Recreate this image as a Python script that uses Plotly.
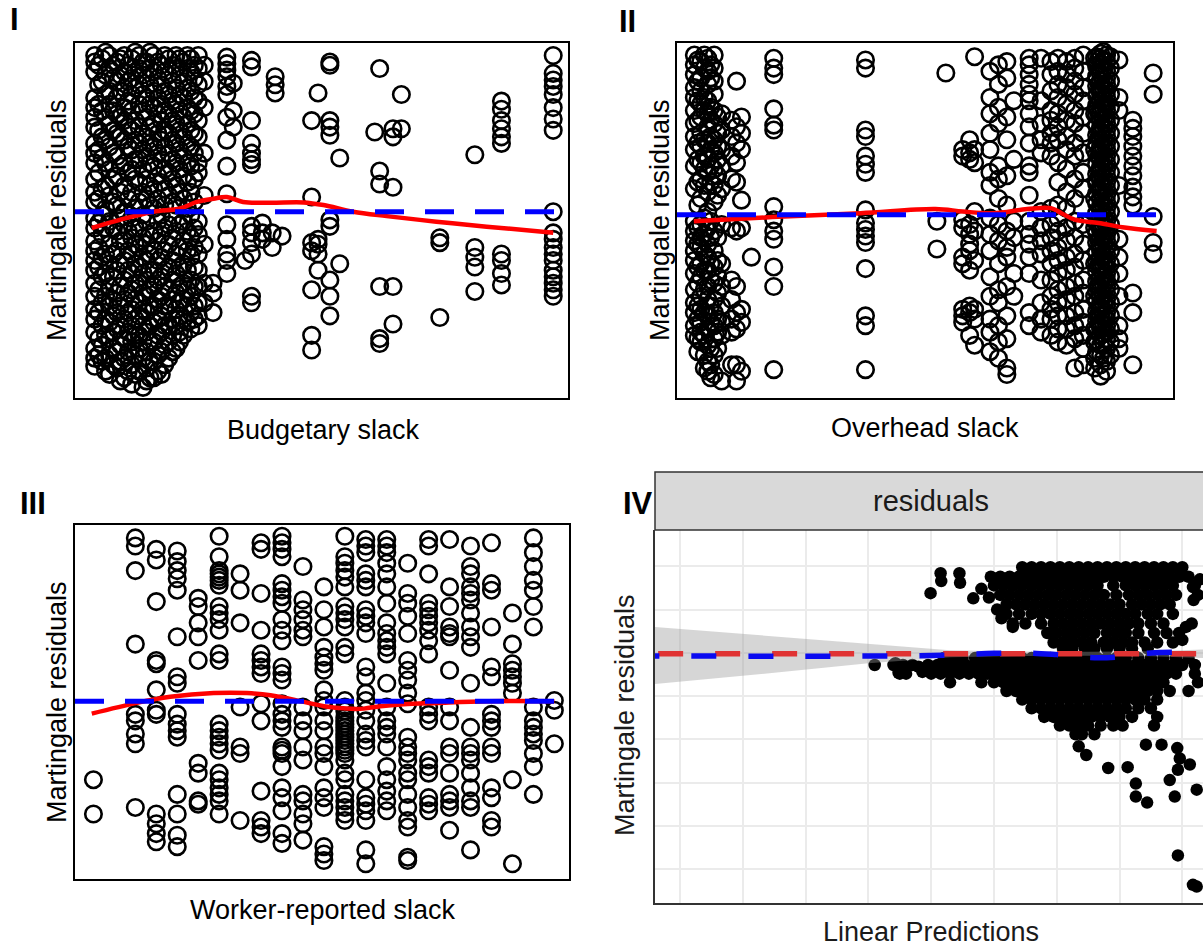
import plotly.graph_objects as go

FONT = "Liberation Sans, Arial, Helvetica, sans-serif"
W, H = 1203, 948

# ---------------- Panel I : Budgetary slack ----------------
p1_col_x = [0.40, 0.55, 0.70, 0.85, 1.00, 1.15, 1.30, 1.45, 1.60, 1.75, 1.90, 2.05, 2.20, 2.35,
            2.50, 2.62, 2.80, 3.08, 3.21, 3.45, 3.58, 3.80, 4.00, 4.06, 4.20, 4.80, 4.93, 5.17,
            5.37, 6.08, 6.18, 6.45, 6.62, 7.40, 8.11, 8.65, 9.70,
            0.48, 0.62, 0.78, 0.92, 1.08, 1.22, 1.38, 1.52, 1.68, 1.82, 1.98, 2.12, 2.28, 2.42]
p1_col_y = [
    [0.96, 0.92, 0.86, 0.70, 0.64, 0.58, 0.52, 0.42, 0.36, 0.30, 0.20, 0.12, 0.06, -0.04, -0.10, -0.18,
     -0.24, -0.30, -0.36, -0.44, -0.52, -0.60, -0.66, -0.74, -0.84, -0.90, -0.95],
    [0.94, 0.80, 0.62, 0.46, 0.33, 0.14, -0.02, -0.14, -0.28, -0.40, -0.56, -0.70, -0.82, -0.92],
    [0.96, 0.88, 0.74, 0.66, 0.54, 0.40, 0.26, 0.10, -0.06, -0.20, -0.32, -0.46, -0.58, -0.68, -0.78,
     -0.88, -1.00],
    [0.92, 0.80, 0.70, 0.60, 0.48, 0.34, 0.22, 0.04, -0.12, -0.24, -0.36, -0.50, -0.62, -0.72, -0.86, -0.96],
    [0.96, 0.86, 0.76, 0.64, 0.56, 0.44, 0.30, 0.16, 0.00, -0.08, -0.18, -0.30, -0.42, -0.54, -0.66,
     -0.78, -0.90, -1.02],
    [0.94, 0.82, 0.72, 0.62, 0.50, 0.38, 0.26, 0.12, -0.04, -0.16, -0.26, -0.38, -0.48, -0.60, -0.70,
     -0.80, -0.94, -1.06],
    [0.96, 0.88, 0.78, 0.66, 0.52, 0.42, 0.32, 0.18, 0.06, -0.10, -0.22, -0.34, -0.44, -0.56, -0.64,
     -0.76, -0.84, -0.98],
    [0.92, 0.82, 0.70, 0.58, 0.46, 0.34, 0.20, 0.08, -0.06, -0.20, -0.30, -0.42, -0.52, -0.62, -0.74,
     -0.86, -0.96, -1.04],
    [0.96, 0.86, 0.74, 0.64, 0.54, 0.40, 0.28, 0.14, 0.02, -0.12, -0.24, -0.36, -0.46, -0.58, -0.68,
     -0.80, -0.92, -1.02],
    [0.90, 0.78, 0.66, 0.56, 0.44, 0.32, 0.18, -0.02, -0.14, -0.28, -0.40, -0.52, -0.64, -0.74, -0.86, -1.00],
    [0.94, 0.84, 0.72, 0.60, 0.48, 0.36, 0.24, 0.10, -0.08, -0.20, -0.34, -0.48, -0.58, -0.70, -0.80, -0.90],
    [0.96, 0.88, 0.76, 0.66, 0.54, 0.42, 0.30, 0.16, 0.04, -0.12, -0.26, -0.38, -0.50, -0.60, -0.70, -0.84],
    [0.92, 0.80, 0.70, 0.58, 0.46, 0.34, 0.22, 0.08, -0.06, -0.18, -0.32, -0.44, -0.54, -0.66, -0.76],
    [0.94, 0.86, 0.74, 0.62, 0.50, 0.40, 0.28, 0.12, -0.02, -0.16, -0.28, -0.42, -0.52, -0.62, -0.72],
    [0.96, 0.88, 0.78, 0.68, 0.56, 0.46, 0.30, 0.24, -0.06, -0.14, -0.26, -0.36, -0.46, -0.56, -0.64, -0.70],
    [0.90, 0.80, 0.64, 0.36, 0.10, -0.20, -0.44, -0.56],
    [-0.44, -0.50, -0.62],
    [0.95, 0.91, 0.87, 0.83, 0.77, 0.72, 0.58, 0.44, 0.28, 0.11, -0.08, -0.17, -0.26, -0.30, -0.38],
    [0.79, 0.62, 0.52],
    [-0.30],
    [0.93, 0.89, 0.56, 0.42, 0.36, 0.32, 0.29, -0.09, -0.13, -0.19, -0.26, -0.52, -0.56],
    [-0.07, -0.13, -0.17],
    [-0.13, -0.22],
    [0.83, 0.78, 0.73],
    [-0.15],
    [0.56, 0.09, -0.19, -0.24, -0.48, -0.76, -0.85],
    [0.73, -0.17, -0.20, -0.26, -0.36],
    [0.92, 0.90, 0.56, 0.52, 0.47, -0.05, -0.09, -0.42, -0.52, -0.64],
    [0.33, -0.32],
    [0.49],
    [0.88, 0.25, 0.17, -0.46, -0.78, -0.81],
    [0.51, 0.46, 0.15, -0.46, -0.69],
    [0.72, 0.51],
    [-0.16, -0.19, -0.65],
    [0.35, -0.22, -0.28, -0.34, -0.49],
    [0.68, 0.63, 0.56, 0.51, 0.46, 0.42, -0.26, -0.30, -0.38, -0.45],
    [0.96, 0.85, 0.81, 0.77, 0.72, 0.64, 0.57, 0.50, 0.00, -0.13, -0.17, -0.22, -0.26, -0.30, -0.36,
     -0.40, -0.44, -0.48, -0.52],
    [0.90, 0.78, 0.66, 0.50, 0.38, 0.24, 0.08, -0.07, -0.22, -0.34, -0.48, -0.62, -0.78, -0.88],
    [0.98, 0.84, 0.72, 0.58, 0.44, 0.30, 0.16, 0.02, -0.10, -0.26, -0.38, -0.52, -0.66, -0.76, -0.90, -0.98],
    [0.90, 0.82, 0.62, 0.50, 0.36, 0.20, 0.06, -0.10, -0.26, -0.40, -0.54, -0.64, -0.74, -0.84, -0.94],
    [0.94, 0.84, 0.74, 0.58, 0.46, 0.28, 0.12, -0.04, -0.18, -0.32, -0.46, -0.58, -0.70, -0.82, -0.92, -1.04],
    [0.90, 0.80, 0.68, 0.52, 0.40, 0.24, 0.08, -0.12, -0.24, -0.36, -0.50, -0.62, -0.74, -0.86, -0.98],
    [0.98, 0.86, 0.76, 0.56, 0.44, 0.32, 0.20, 0.02, -0.10, -0.20, -0.32, -0.44, -0.54, -0.66, -0.76,
     -0.88, -1.00],
    [0.92, 0.84, 0.72, 0.62, 0.48, 0.38, 0.26, 0.12, -0.02, -0.16, -0.28, -0.38, -0.50, -0.60, -0.70,
     -0.80, -0.90, -1.08],
    [0.98, 0.88, 0.78, 0.66, 0.52, 0.42, 0.30, 0.16, 0.04, -0.14, -0.26, -0.36, -0.48, -0.58, -0.70,
     -0.80, -0.92, -1.02],
    [0.92, 0.82, 0.70, 0.60, 0.48, 0.36, 0.22, 0.08, -0.06, -0.18, -0.30, -0.42, -0.54, -0.66, -0.76,
     -0.88, -0.98],
    [0.96, 0.86, 0.74, 0.62, 0.50, 0.40, 0.26, 0.14, 0.04, -0.10, -0.24, -0.36, -0.46, -0.58, -0.70,
     -0.82, -0.94],
    [0.90, 0.80, 0.68, 0.56, 0.44, 0.32, 0.20, 0.06, -0.04, -0.16, -0.30, -0.42, -0.54, -0.66, -0.76, -0.86],
    [0.94, 0.84, 0.72, 0.62, 0.50, 0.38, 0.26, 0.12, -0.08, -0.22, -0.34, -0.46, -0.56, -0.64, -0.74, -0.80],
    [0.96, 0.88, 0.76, 0.64, 0.54, 0.42, 0.30, 0.18, 0.02, -0.12, -0.24, -0.36, -0.48, -0.58, -0.68],
    [0.90, 0.82, 0.70, 0.60, 0.48, 0.36, 0.20, 0.06, -0.10, -0.22, -0.34, -0.46, -0.58, -0.66],
]
p1_fit_x = [0.34, 0.91, 1.59, 2.13, 2.47, 2.81, 3.08, 3.41, 3.95, 4.63, 5.04, 5.64, 6.32, 7.33, 8.35, 9.70]
p1_fit_y = [-0.10, -0.05, 0.0, 0.02, 0.06, 0.08, 0.09, 0.06, 0.055, 0.057, 0.041, 0.0, -0.027, -0.061,
            -0.092, -0.129]
p1_ref_x = [0.0, 9.75]
p1_ref_y = [0.0, 0.0]

# ---------------- Panel II : Overhead slack ----------------
p2_col_x = [0.35, 0.48, 0.62, 0.75, 0.90, 1.10, 1.20, 1.30, 1.50, 1.95, 3.80, 5.24, 5.42, 5.76, 5.90,
            6.00, 6.31, 6.48, 6.65, 6.79, 7.10, 7.34, 7.54, 7.68, 7.85, 8.02, 8.19, 8.42, 8.54, 8.66,
            8.91, 9.19, 9.60,
            0.42, 0.55, 0.68, 0.82, 8.46, 8.60, 8.74]
p2_col_y = [
    [0.98, 0.92, 0.86, 0.78, 0.72, 0.64, 0.56, 0.48, 0.40, 0.30, 0.16, -0.04, -0.10, -0.16, -0.22, -0.28,
     -0.36, -0.46, -0.54, -0.60, -0.68, -0.74],
    [0.94, 0.84, 0.76, 0.68, 0.60, 0.50, 0.42, 0.32, 0.22, 0.10, -0.06, -0.14, -0.20, -0.30, -0.38, -0.50,
     -0.58, -0.66, -0.72, -0.78],
    [0.96, 0.88, 0.80, 0.70, 0.62, 0.54, 0.44, 0.34, 0.26, 0.14, 0.02, -0.08, -0.18, -0.26, -0.34, -0.44,
     -0.52, -0.62, -0.70, -0.80, -0.90, -0.96],
    [0.98, 0.90, 0.82, 0.74, 0.64, 0.56, 0.46, 0.38, 0.28, 0.18, 0.08, -0.10, -0.22, -0.32, -0.42, -0.52,
     -0.60, -0.68, -0.76, -0.86, -0.98],
    [0.62, 0.52, 0.40, 0.30, 0.16, -0.06, -0.30, -0.44, -0.56, -0.66, -0.74, -1.02],
    [0.58, 0.48, 0.36, 0.22, -0.08, -0.40, -0.52, -0.64, -0.72, -0.92],
    [0.82, 0.54, 0.44, 0.32, 0.20, -0.10, -0.44, -0.60, -0.70, -0.92, -1.02],
    [0.60, 0.50, 0.40, 0.09, -0.08, -0.58, -0.66, -0.96],
    [-0.26],
    [0.96, 0.90, 0.86, 0.65, 0.55, 0.52, 0.05, -0.03, -0.10, -0.15, -0.32, -0.44, -0.95],
    [0.95, 0.90, 0.52, 0.48, 0.36, 0.31, 0.26, 0.03, -0.05, -0.09, -0.13, -0.17, -0.33, -0.62, -0.68, -0.95],
    [-0.04, -0.21],
    [0.87],
    [0.40, 0.36, -0.03, -0.08, -0.26, -0.30, -0.58, -0.62, -0.66],
    [0.46, 0.38, 0.34, -0.06, -0.12, -0.18, -0.22, -0.34, -0.56, -0.60, -0.74],
    [0.97, 0.40, 0.32, 0.02, -0.10, -0.28, -0.58, -0.64, -0.80],
    [0.88, 0.72, 0.62, 0.50, 0.40, 0.26, 0.18, -0.02, -0.12, -0.22, -0.38, -0.50, -0.64, -0.72, -0.84],
    [0.92, 0.80, 0.66, 0.56, 0.30, 0.22, 0.10, -0.06, -0.16, -0.30, -0.46, -0.54, -0.68, -0.78, -0.88],
    [0.94, 0.84, 0.60, 0.46, 0.24, 0.06, -0.10, -0.20, -0.26, -0.44, -0.62, -0.76, -0.94, -0.98],
    [0.70, 0.34, -0.04, -0.14, -0.36, -0.50],
    [0.96, 0.92, 0.86, 0.80, 0.74, 0.70, 0.62, 0.54, 0.44, 0.30, 0.26, 0.12, -0.04, -0.12, -0.18, -0.26,
     -0.36, -0.60, -0.68],
    [0.96, 0.70, 0.56, 0.46, 0.38, 0.02, -0.08, -0.16, -0.24, -0.40, -0.54, -0.64, -0.72],
    [0.94, 0.86, 0.76, 0.64, 0.58, 0.50, 0.44, 0.36, 0.04, -0.06, -0.14, -0.22, -0.30, -0.40, -0.50, -0.58,
     -0.64, -0.74],
    [0.96, 0.88, 0.80, 0.72, 0.62, 0.54, 0.46, 0.32, 0.20, 0.06, -0.02, -0.10, -0.20, -0.28, -0.36, -0.46,
     -0.54, -0.62, -0.70, -0.78],
    [0.94, 0.86, 0.78, 0.68, 0.58, 0.48, 0.40, 0.28, 0.14, 0.04, -0.08, -0.16, -0.26, -0.34, -0.44, -0.52,
     -0.62, -0.70, -0.80],
    [0.96, 0.90, 0.82, 0.74, 0.64, 0.56, 0.44, 0.36, 0.22, 0.10, -0.04, -0.14, -0.24, -0.32, -0.42, -0.50,
     -0.60, -0.68, -0.76, -0.94],
    [0.98, 0.88, 0.78, 0.70, 0.60, 0.50, 0.38, 0.26, 0.16, -0.06, -0.18, -0.28, -0.40, -0.48, -0.58, -0.66,
     -0.74, -0.82, -0.92],
    [0.96, 0.62, 0.40, 0.10, -0.08, -0.30, -0.50, -0.70, -0.78, -0.88, -0.94],
    [0.99, 0.96, 0.93, 0.90, 0.86, 0.82, 0.78, 0.74, 0.70, 0.66, 0.62, 0.58, 0.54, 0.50, 0.46, 0.42, 0.38,
     0.34, 0.30, 0.26, 0.22, 0.18, 0.14, 0.10, 0.06, 0.02, -0.02, -0.06, -0.10, -0.14, -0.18, -0.22, -0.26,
     -0.30, -0.34, -0.38, -0.42, -0.46, -0.50, -0.54, -0.58, -0.62, -0.66, -0.70, -0.74, -0.80, -0.86,
     -0.92, -0.99],
    [0.98, 0.94, 0.88, 0.84, 0.80, 0.76, 0.72, 0.68, 0.64, 0.60, 0.56, 0.52, 0.48, 0.44, 0.40, 0.36, 0.32,
     0.28, 0.24, 0.20, 0.16, 0.12, 0.08, 0.04, 0.00, -0.04, -0.08, -0.12, -0.16, -0.20, -0.24, -0.28, -0.32,
     -0.36, -0.40, -0.44, -0.48, -0.52, -0.56, -0.60, -0.64, -0.68, -0.72, -0.76, -0.82, -0.90, -0.96],
    [0.95, 0.72, 0.64, 0.18, -0.15, -0.26, -0.36, -0.50, -0.68, -0.76, -0.82],
    [0.58, 0.53, 0.48, 0.42, 0.36, 0.30, 0.24, 0.17, 0.11, 0.06, -0.48, -0.60, -0.92],
    [0.87, 0.74, -0.01, -0.17, -0.24],
    [0.95, 0.82, 0.70, 0.58, 0.44, 0.34, 0.20, 0.06, -0.08, -0.18, -0.32, -0.42, -0.56, -0.64, -0.76, -0.84],
    [0.98, 0.90, 0.72, 0.64, 0.46, 0.36, 0.28, 0.18, -0.02, -0.12, -0.24, -0.34, -0.46, -0.60, -0.74,
     -0.86, -0.94],
    [0.92, 0.84, 0.66, 0.58, 0.48, 0.40, 0.30, 0.20, -0.04, -0.14, -0.30, -0.40, -0.56, -0.66, -0.82,
     -0.92, -1.00],
    [0.60, 0.50, 0.42, 0.34, 0.24, 0.12, -0.14, -0.28, -0.38, -0.48, -0.64, -0.72, -0.82],
    [0.97, 0.91, 0.85, 0.79, 0.73, 0.67, 0.61, 0.55, 0.49, 0.43, 0.37, 0.31, 0.25, 0.19, 0.13, 0.07, 0.01,
     -0.05, -0.11, -0.17, -0.23, -0.29, -0.35, -0.41, -0.47, -0.53, -0.59, -0.65, -0.71, -0.77, -0.84],
    [1.00, 0.95, 0.89, 0.83, 0.77, 0.71, 0.65, 0.59, 0.53, 0.47, 0.41, 0.35, 0.29, 0.23, 0.17, 0.11, 0.05,
     -0.01, -0.07, -0.13, -0.19, -0.25, -0.31, -0.37, -0.43, -0.49, -0.55, -0.61, -0.67, -0.73, -0.79, -0.88],
    [0.97, 0.90, 0.82, 0.74, 0.66, 0.58, 0.50, 0.42, 0.34, 0.26, 0.18, 0.10, 0.02, -0.06, -0.14, -0.22,
     -0.30, -0.38, -0.46, -0.54, -0.62, -0.70, -0.78, -0.86],
]
p2_fit_x = [0.34, 1.92, 3.70, 5.21, 5.76, 6.38, 7.06, 7.54, 7.75, 8.02, 8.50, 8.98, 9.67]
p2_fit_y = [-0.04, -0.014, 0.01, 0.035, 0.02, 0.01, 0.035, 0.041, 0.01, -0.03, -0.05, -0.076, -0.10]
p2_ref_x = [0.0, 9.67]
p2_ref_y = [0.0, 0.0]

# ---------------- Panel III : Worker-reported slack ----------------
p3_col_x = [0, 2, 3, 4, 5, 6, 7, 8, 9, 10, 11, 12, 13, 14, 15, 16, 17, 18, 19, 20, 21, 22]
p3_col_y = [
    [-0.48, -0.69],
    [1.0, 0.95, 0.80, 0.35, -0.08, -0.12, -0.20, -0.26, -0.65],
    [0.93, 0.865, 0.61, 0.25, 0.23, 0.07, -0.055, -0.08, -0.69, -0.75, -0.81, -0.86],
    [0.92, 0.855, 0.80, 0.75, 0.68, 0.395, 0.15, 0.11, -0.08, -0.14, -0.18, -0.22, -0.57, -0.69, -0.82, -0.89],
    [0.63, 0.58, 0.48, 0.395, 0.25, -0.38, -0.44, -0.61, -0.63],
    [1.01, 0.885, 0.80, 0.78, 0.76, 0.74, 0.71, 0.58, 0.54, 0.50, 0.435, 0.29, 0.25, -0.14, -0.18, -0.22,
     -0.26, -0.30, -0.44, -0.48, -0.53, -0.57, -0.61, -0.69],
    [0.78, 0.68, 0.48, -0.035, -0.28, -0.32, -0.73],
    [0.97, 0.93, 0.66, 0.435, 0.29, 0.25, 0.21, 0.17, -0.015, -0.12, -0.55, -0.73, -0.77, -0.81],
    [1.01, 0.97, 0.93, 0.885, 0.72, 0.68, 0.64, 0.60, 0.50, 0.435, 0.37, 0.21, 0.17, 0.13, -0.015, -0.08,
     -0.12, -0.16, -0.28, -0.30, -0.32, -0.40, -0.53, -0.59, -0.67, -0.81, -0.87],
    [0.825, 0.62, 0.56, 0.50, 0.435, 0.395, -0.035, -0.12, -0.18, -0.28, -0.36, -0.57, -0.61, -0.69, -0.75, -0.85],
    [0.70, 0.56, 0.455, 0.33, 0.27, 0.23, 0.19, 0.07, 0.005, -0.035, -0.12, -0.18, -0.28, -0.32, -0.40,
     -0.53, -0.59, -0.65, -0.89, -0.935, -0.975],
    [1.01, 0.885, 0.845, 0.80, 0.76, 0.70, 0.58, 0.54, 0.50, 0.455, 0.33, 0.29, 0.005, -0.035, -0.06, -0.10,
     -0.12, -0.14, -0.16, -0.18, -0.20, -0.22, -0.24, -0.26, -0.28, -0.30, -0.32, -0.36, -0.44, -0.48,
     -0.57, -0.61, -0.65, -0.69, -0.73],
    [0.99, 0.95, 0.91, 0.78, 0.74, 0.70, 0.56, 0.52, 0.48, 0.415, 0.21, 0.15, 0.05, 0.005, -0.055, -0.12,
     -0.20, -0.24, -0.28, -0.48, -0.59, -0.63, -0.67, -0.73, -0.91, -0.995],
    [0.99, 0.95, 0.91, 0.845, 0.78, 0.70, 0.60, 0.48, 0.415, 0.37, 0.33, 0.29, 0.11, -0.035, -0.12, -0.16,
     -0.20, -0.28, -0.40, -0.48, -0.55, -0.61, -0.67],
    [0.845, 0.66, 0.60, 0.52, 0.415, 0.25, 0.19, 0.13, 0.05, -0.015, -0.22, -0.28, -0.32, -0.36, -0.44,
     -0.48, -0.57, -0.65, -0.73, -0.77, -0.955, -0.975],
    [0.99, 0.95, 0.78, 0.60, 0.56, 0.52, 0.48, 0.435, 0.37, 0.29, -0.035, -0.08, -0.12, -0.36, -0.40,
     -0.44, -0.59, -0.63, -0.67],
    [0.99, 0.70, 0.58, 0.455, 0.415, 0.395, 0.19, -0.035, -0.12, -0.28, -0.32, -0.44, -0.57, -0.61, -0.65, -0.79],
    [0.95, 0.825, 0.78, 0.70, 0.66, 0.62, 0.54, 0.455, 0.395, 0.33, 0.11, -0.16, -0.28, -0.32, -0.36,
     -0.44, -0.53, -0.61, -0.65, -0.91],
    [0.97, 0.72, 0.68, 0.455, 0.21, 0.15, -0.08, -0.12, -0.16, -0.28, -0.32, -0.53, -0.59, -0.73, -0.77],
    [0.54, 0.35, 0.23, 0.19, 0.15, 0.11, 0.05, -0.48, -0.995],
    [1.0, 0.91, 0.825, 0.74, 0.68, 0.58, 0.455, -0.035, -0.12, -0.16, -0.20, -0.24, -0.32, -0.40, -0.57],
    [0.005, -0.055, -0.26],
]
p3_fit_x = [-0.08, 2.07, 3.67, 5.74, 7.33, 8.45, 10.04, 11.0, 12.1, 12.9, 13.7, 14.8, 16.4, 18.8, 22.0]
p3_fit_y = [-0.076, -0.01, 0.027, 0.05, 0.05, 0.037, -0.004, -0.03, -0.045, -0.045, -0.03, -0.018, -0.01,
            0.0, 0.0]
p3_ref_x = [-0.88, 22.15]
p3_ref_y = [0.0, 0.0]

# ---------------- Panel IV : residuals vs linear predictions ----------------
iv_row_y = [0.99, 0.88, 0.78, 0.67, 0.56, 0.45, 0.34, 0.23, 0.12, 0.05,
            -0.06, -0.14, -0.24, -0.34, -0.44, -0.54, -0.64, -0.74, -0.84, -0.94]
iv_row_x = [
    [5.45, 5.6, 5.75, 5.9, 6.05, 6.2, 6.35, 6.5, 6.65, 6.8, 6.95, 7.1, 7.25, 7.4, 7.55, 7.7, 7.85, 8.0],
    [4.95, 5.1, 5.25, 5.4, 5.55, 5.7, 5.85, 6.0, 6.15, 6.3, 6.45, 6.6, 6.75, 6.9, 7.05, 7.2, 7.35, 7.5,
     7.65, 7.8, 7.95, 8.1],
    [5.0, 5.15, 5.3, 5.45, 5.6, 5.75, 5.9, 6.05, 6.2, 6.35, 6.5, 6.65, 6.9, 7.1, 7.25, 7.4, 7.55, 7.7,
     7.85, 8.2],
    [5.1, 5.25, 5.4, 5.55, 5.7, 5.85, 6.0, 6.15, 6.3, 6.45, 6.6, 6.75, 6.95, 7.15, 7.3, 7.45, 7.6, 7.75,
     7.9, 8.25],
    [5.2, 5.35, 5.5, 5.65, 5.8, 5.95, 6.1, 6.25, 6.4, 6.55, 6.7, 6.85, 7.0, 7.2, 7.35, 7.5, 7.65, 7.8],
    [5.2, 5.4, 5.6, 5.75, 5.9, 6.05, 6.2, 6.35, 6.5, 6.65, 6.8, 6.95, 7.1, 7.25, 7.45, 7.6, 7.85],
    [5.3, 5.5, 5.75, 5.95, 6.1, 6.25, 6.4, 6.55, 6.7, 6.85, 7.0, 7.15, 7.3, 7.5, 7.7, 8.15],
    [5.85, 6.0, 6.15, 6.3, 6.45, 6.6, 6.8, 6.95, 7.1, 7.3, 7.55, 7.75, 7.95],
    [5.95, 6.1, 6.25, 6.4, 6.55, 6.75, 6.9, 7.05, 7.2, 7.4, 7.6, 7.85],
    [6.1, 6.25, 6.45, 6.6, 6.8, 7.0, 7.2, 7.45],
    [4.2, 4.35, 4.5, 4.7, 4.85, 5.0, 5.15, 5.3, 5.45, 5.6, 5.75, 5.9, 6.05, 6.2, 6.35, 6.5, 6.65, 6.8,
     6.95, 7.1, 7.3, 7.5, 7.7, 7.9, 8.1],
    [3.1, 3.4, 3.55, 3.7, 3.95, 4.1, 4.25, 4.4, 4.55, 4.7, 4.85, 5.0, 5.15, 5.3, 5.45, 5.6, 5.75, 5.9,
     6.05, 6.2, 6.35, 6.5, 6.65, 6.8, 6.95, 7.1, 7.25, 7.4, 7.55, 7.7, 7.85, 8.0, 8.2],
    [3.5, 3.6, 4.0, 4.15, 4.3, 4.45, 4.6, 4.75, 4.9, 5.05, 5.2, 5.35, 5.5, 5.65, 5.8, 5.95, 6.1, 6.25,
     6.4, 6.55, 6.7, 6.85, 7.0, 7.15, 7.3, 7.45, 7.6, 7.75, 7.9, 8.2],
    [4.3, 4.8, 5.0, 5.15, 5.3, 5.45, 5.6, 5.75, 5.9, 6.05, 6.2, 6.35, 6.5, 6.65, 6.8, 6.95, 7.1, 7.25,
     7.4, 7.55, 7.7, 8.25],
    [5.2, 5.35, 5.5, 5.65, 5.8, 5.95, 6.1, 6.25, 6.4, 6.55, 6.7, 6.85, 7.0, 7.15, 7.3, 7.45, 7.6, 7.8, 8.1],
    [5.45, 5.6, 5.75, 5.9, 6.05, 6.2, 6.35, 6.5, 6.65, 6.8, 6.95, 7.1, 7.25, 7.4, 7.6],
    [5.6, 5.75, 5.9, 6.05, 6.2, 6.35, 6.5, 6.65, 6.8, 6.95, 7.1, 7.3, 7.5],
    [5.8, 5.95, 6.1, 6.25, 6.4, 6.55, 6.7, 6.85, 7.0, 7.2, 7.6],
    [6.05, 6.2, 6.35, 6.5, 6.7, 6.9, 7.05, 7.55],
    [6.3, 6.4, 6.6],
]
iv_extra_x = [3.99, 4.15, 4.16, 4.45, 4.46, 4.67, 4.80, 4.92, 5.05, 5.12, 5.30,
              8.17, 8.18, 8.06, 8.00, 8.28,
              3.43, 3.48, 3.80, 3.86,
              6.35, 6.47, 6.82, 7.13, 7.42, 7.67, 7.26, 7.26, 7.44, 7.80, 7.88, 7.93, 8.12, 8.23,
              7.92, 7.96, 7.93, 8.17, 8.23]
iv_extra_y = [0.69, 0.92, 0.83, 0.92, 0.81, 0.63, 0.74, 0.64, 0.50, 0.40, 0.30,
              0.76, 0.61, 0.30, 0.15, 0.85,
              -0.12, -0.23, -0.16, -0.22,
              -1.08, -1.18, -1.33, -1.32, -1.06, -1.06, -1.51, -1.66, -1.73, -1.47, -1.66, -1.35, -1.29, -1.58,
              -1.10, -1.22, -2.34, -2.68, -2.70]
iv_band_x = [-0.40, 1.5, 3.0, 4.3, 5.5, 6.5, 7.5, 8.4]
iv_band_hi = [0.30, 0.19, 0.10, 0.03, 0.015, 0.012, 0.02, 0.04]
iv_band_lo = [-0.36, -0.23, -0.12, -0.05, -0.035, -0.032, -0.04, -0.06]
iv_lin_x = [-0.35, 8.40]
iv_lin_y = [-0.01, -0.01]
iv_smooth_x = [-0.73, 4.0, 5.0, 5.5, 6.0, 6.6, 7.0, 7.5, 8.0, 8.4]
iv_smooth_y = [-0.035, -0.03, -0.005, 0.0, -0.02, -0.055, -0.045, 0.0, 0.01, 0.01]


def flatten(xs, cols):
    ox, oy = [], []
    for x, col in zip(xs, cols):
        for y in col:
            ox.append(x)
            oy.append(y)
    return ox, oy


def rows(ys, xrows):
    ox, oy = [], []
    for y, row in zip(ys, xrows):
        for x in row:
            ox.append(x)
            oy.append(y)
    return ox, oy


fig = go.Figure()

open_marker = dict(symbol="circle-open", size=16.5, color="black", line=dict(width=2.6, color="black"))
RED = "#FF0000"
BLUE = "#0000FF"

for ax, (cx, cy, fx, fy, rx, ry) in zip(
        ["", "2", "3"],
        [(p1_col_x, p1_col_y, p1_fit_x, p1_fit_y, p1_ref_x, p1_ref_y),
         (p2_col_x, p2_col_y, p2_fit_x, p2_fit_y, p2_ref_x, p2_ref_y),
         (p3_col_x, p3_col_y, p3_fit_x, p3_fit_y, p3_ref_x, p3_ref_y)]):
    px_, py_ = flatten(cx, cy)
    fig.add_trace(go.Scatter(x=px_, y=py_, mode="markers", marker=open_marker,
                             xaxis="x" + ax, yaxis="y" + ax, hoverinfo="skip"))
    fig.add_trace(go.Scatter(x=fx, y=fy, mode="lines", line=dict(color=RED, width=4.5, shape="spline"),
                             xaxis="x" + ax, yaxis="y" + ax, hoverinfo="skip"))
    fig.add_trace(go.Scatter(x=rx, y=ry, mode="lines", line=dict(color=BLUE, width=5, dash="29px,21px"),
                             xaxis="x" + ax, yaxis="y" + ax, hoverinfo="skip"))

# Panel IV
ivx, ivy = rows(iv_row_y, iv_row_x)
ivx += iv_extra_x
ivy += iv_extra_y
fig.add_trace(go.Scatter(x=ivx, y=ivy, mode="markers", marker=dict(size=12.5, color="black"),
                         xaxis="x4", yaxis="y4", hoverinfo="skip"))
fig.add_trace(go.Scatter(x=iv_band_x + iv_band_x[::-1], y=iv_band_hi + iv_band_lo[::-1],
                         mode="lines", fill="toself", fillcolor="rgba(153,153,153,0.4)",
                         line=dict(width=0, color="rgba(0,0,0,0)"), xaxis="x4", yaxis="y4", hoverinfo="skip"))
fig.add_trace(go.Scatter(x=iv_lin_x, y=iv_lin_y, mode="lines",
                         line=dict(color="#E03333", width=5.5, dash="25px,32px"),
                         xaxis="x4", yaxis="y4", hoverinfo="skip"))
fig.add_trace(go.Scatter(x=iv_smooth_x, y=iv_smooth_y, mode="lines",
                         line=dict(color="#0A0AF0", width=5.5, dash="25px,32px", shape="spline"),
                         xaxis="x4", yaxis="y4", hoverinfo="skip"))


def px(v):
    return v / W


def py(v):
    return 1 - v / H


base_axis = dict(showgrid=False, zeroline=False, showticklabels=False, ticks="", showline=True,
                 mirror=True, linecolor="black", linewidth=2)

fig.update_layout(
    width=W, height=H, margin=dict(l=0, r=0, t=0, b=0),
    paper_bgcolor="white", plot_bgcolor="white", showlegend=False,
    font=dict(family=FONT, color="black"),
    xaxis=dict(base_axis, domain=[px(75), px(568)], range=[0, 10], anchor="y"),
    yaxis=dict(base_axis, domain=[py(398), py(43)], range=[-1.145, 1.037], anchor="x"),
    xaxis2=dict(base_axis, domain=[px(677), px(1173)], range=[0, 10], anchor="y2"),
    yaxis2=dict(base_axis, domain=[py(398), py(43)], range=[-1.124, 1.054], anchor="x2"),
    xaxis3=dict(base_axis, domain=[px(75), px(569)], range=[-0.88, 22.7], anchor="y3"),
    yaxis3=dict(base_axis, domain=[py(879), py(525)], range=[-1.088, 1.079], anchor="x3"),
    xaxis4=dict(domain=[px(655), 1.0], range=[-0.40, 8.33], anchor="y4", showgrid=True,
                gridcolor="#EBEBEB", gridwidth=1.5, dtick=1, tick0=0, zeroline=False,
                showticklabels=False, ticks="", showline=True, linecolor="#333333", linewidth=1.5),
    yaxis4=dict(domain=[py(903), py(530)], range=[-2.89, 1.42], anchor="x4", showgrid=True,
                gridcolor="#EBEBEB", gridwidth=1.5, dtick=0.5, tick0=0, zeroline=False,
                showticklabels=False, ticks="", showline=True, linecolor="#333333", linewidth=1.5),
)

# facet strip for panel IV
fig.add_shape(type="rect", xref="paper", yref="paper", x0=px(655), x1=1.02, y0=py(530), y1=py(472),
              fillcolor="#D9D9D9", line=dict(color="#333333", width=1.5), layer="above")

ann = []
TS = 27
ann.append(dict(text="Budgetary slack", x=px(323), y=py(430), font=dict(size=TS)))
ann.append(dict(text="Overhead slack", x=px(925), y=py(428), font=dict(size=TS)))
ann.append(dict(text="Worker-reported slack", x=px(323), y=py(910), font=dict(size=TS)))
ann.append(dict(text="Linear Predictions", x=px(931), y=py(932), font=dict(size=TS, color="#1A1A1A")))
ann.append(dict(text="Martingale residuals", x=px(57), y=py(220), textangle=-90, font=dict(size=TS)))
ann.append(dict(text="Martingale residuals", x=px(660), y=py(220), textangle=-90, font=dict(size=TS)))
ann.append(dict(text="Martingale residuals", x=px(57), y=py(702), textangle=-90, font=dict(size=TS)))
ann.append(dict(text="Martingale residuals", x=px(625), y=py(715), textangle=-90,
                font=dict(size=TS, color="#1A1A1A")))
ann.append(dict(text="residuals", x=px(931), y=py(501), font=dict(size=29, color="#1A1A1A")))
for lab, (lx, ly) in [("I", (14, 20)), ("II", (627, 21)), ("III", (33, 503)), ("IV", (638, 504))]:
    ann.append(dict(text="<b>" + lab + "</b>", x=px(lx), y=py(ly), font=dict(size=31)))

for a in ann:
    a.update(xref="paper", yref="paper", showarrow=False, xanchor="center", yanchor="middle")
    fig.add_annotation(**a)

fig.write_html("out.html", config={"displayModeBar": False},
               post_script="document.body.style.margin='0';document.body.style.overflow='hidden';")
